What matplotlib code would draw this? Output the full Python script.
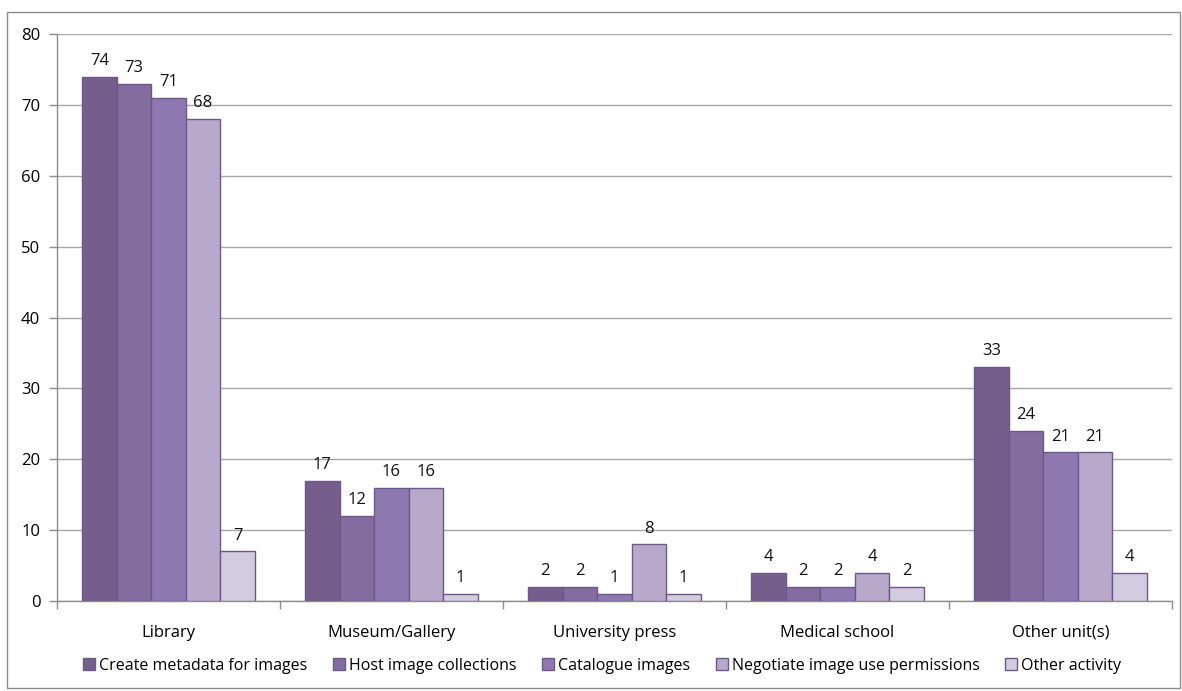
import matplotlib
matplotlib.use("Agg")
import matplotlib.pyplot as plt
from matplotlib.patches import Rectangle
import numpy as np

plt.rcParams['font.family'] = ['Open Sans', 'DejaVu Sans']

categories = ["Library", "Museum/Gallery", "University press", "Medical school", "Other unit(s)"]
series_names = ["Create metadata for images", "Host image collections", "Catalogue images",
                "Negotiate image use permissions", "Other activity"]
create_metadata = [74, 17, 2, 4, 33]
host_collections = [73, 12, 2, 2, 24]
catalogue = [71, 16, 1, 2, 21]
negotiate = [68, 16, 8, 4, 21]
other_activity = [7, 1, 1, 2, 4]
series_values = [create_metadata, host_collections, catalogue, negotiate, other_activity]

colors = ["#765E8C", "#836D9F", "#8F79B1", "#B8A9CB", "#D3CBDF"]
edge = "#6E5889"

fig = plt.figure(figsize=(11.82, 6.91), dpi=100)
fig.patches.append(Rectangle((0.006, 0.004), 0.992, 0.979, transform=fig.transFigure,
                             fill=False, edgecolor="#8C8C8C", linewidth=1.0))
ax = fig.add_axes([0.0482, 0.1302, 0.9433, 0.8206])

x = np.arange(len(categories))
w = 0.155
for i, (vals, name, c) in enumerate(zip(series_values, series_names, colors)):
    pos = x + (i - 2) * w
    bars = ax.bar(pos, vals, width=w, color=c, edgecolor=edge, linewidth=1.0, label=name, zorder=3)
    for b, v in zip(bars, vals):
        ax.annotate(str(v), (b.get_x() + b.get_width() / 2, v), xytext=(0, 5.5),
                    textcoords="offset points", ha="center", va="bottom", fontsize=12, color="#111111")

ax.set_xlim(-0.5, len(categories) - 0.5)
ax.set_ylim(0, 80)
ax.set_yticks(range(0, 81, 10))
ax.set_xticks(x)
ax.set_xticklabels(categories, fontsize=12)
ax.tick_params(axis='x', length=0, pad=17)
ax.set_xticks(np.arange(-0.5, len(categories), 1), minor=True)
ax.tick_params(axis='x', which='minor', length=6, color="#8C8C8C", width=1)
ax.tick_params(axis='y', length=6, color="#8C8C8C", width=1, labelsize=12, pad=6)
ax.yaxis.grid(True, color="#A6A6A6", linewidth=1.0, zorder=0)
for s in ["top", "right"]:
    ax.spines[s].set_visible(False)
for s in ["left", "bottom"]:
    ax.spines[s].set_color("#8C8C8C")
    ax.spines[s].set_linewidth(1.0)

ax.legend(loc="center", bbox_to_anchor=(0.489, -0.114), ncol=5, frameon=False, fontsize=11.5,
          handlelength=0.75, handleheight=0.75, handletextpad=0.25, columnspacing=1.6)

fig.savefig("out.png", dpi=100)
